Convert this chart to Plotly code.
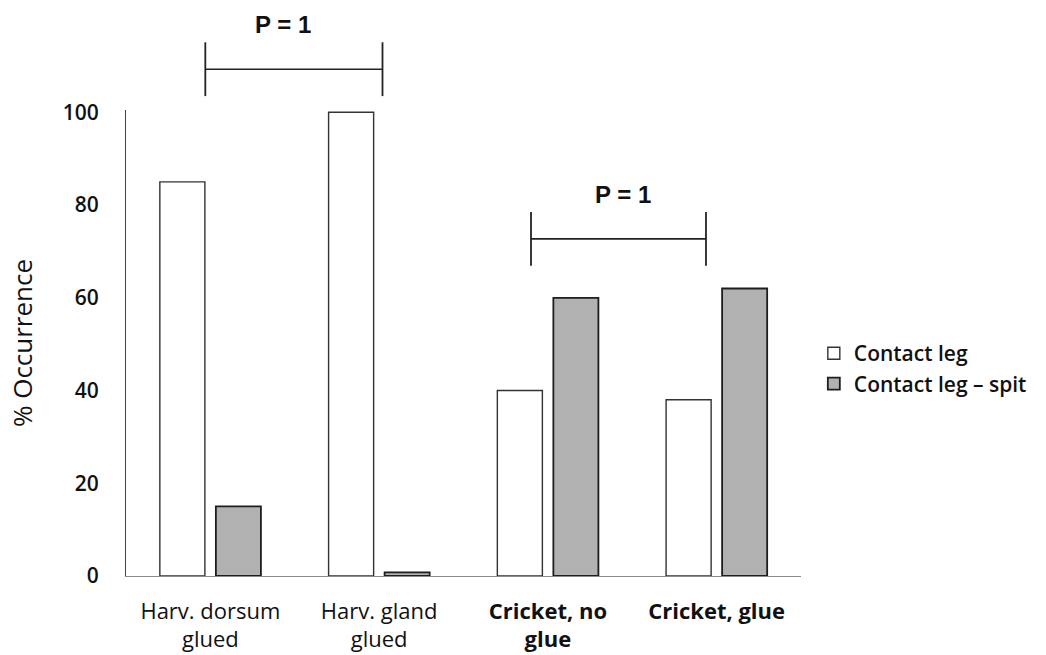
import plotly.graph_objects as go

categories = ["Harv. dorsum<br>glued", "Harv. gland<br>glued", "Cricket, no<br>glue", "Cricket, glue"]
contact_leg = [85, 100, 40, 38]
contact_leg_spit = [15, 0.8, 60, 62]
y_ticks = [0, 20, 40, 60, 80, 100]

# significance brackets: left end, right end, bracket height (% units), label, label x, label height
brackets = [
    (-0.03, 1.02, 109.3, "P = 1", 0.43, 119.0),
    (1.90, 2.937, 72.7, "P = 1", 2.448, 82.3),
]

Y_TOP = 100.5
FONT = "'Open Sans', Lato, sans-serif"
bold_cats = {2, 3}

tick_text = ["<b>" + c + "</b>" if i in bold_cats else c for i, c in enumerate(categories)]

fig = go.Figure()
fig.add_trace(go.Bar(
    x=list(range(len(categories))), y=contact_leg, name="Contact leg",
    marker=dict(color="white", line=dict(color="#333333", width=1.4)),
))
fig.add_trace(go.Bar(
    x=list(range(len(categories))), y=contact_leg_spit, name="Contact leg \u2013 spit",
    marker=dict(color="#b1b1b1", line=dict(color="#1e1e1e", width=1.8)),
))

shapes = []
annotations = []
for x0, x1, yv, label, tx, ty in brackets:
    yp = yv / Y_TOP
    half = 5.8 / Y_TOP
    shapes.append(dict(type="line", xref="x", yref="paper", x0=x0, x1=x1, y0=yp, y1=yp,
                       line=dict(color="#222222", width=1.6)))
    for xx in (x0, x1):
        shapes.append(dict(type="line", xref="x", yref="paper", x0=xx, x1=xx,
                           y0=yp - half, y1=yp + half, line=dict(color="#222222", width=1.8)))
    annotations.append(dict(x=tx, y=ty / Y_TOP, xref="x", yref="paper",
                            xanchor="center", yanchor="middle",
                            text="<b>" + label + "</b>", showarrow=False,
                            font=dict(family="Liberation Sans, Arial", size=24, color="#111111")))

fig.update_layout(
    width=1046, height=655,
    margin=dict(l=126, r=245, t=110, b=79),
    paper_bgcolor="white", plot_bgcolor="white",
    barmode="group", bargap=0.336, bargroupgap=0.196,
    shapes=shapes, annotations=annotations,
    font=dict(family=FONT, color="#111111"),
    legend=dict(x=1.019, y=0.445, xanchor="left", yanchor="middle",
                font=dict(family=FONT, size=21, color="#111111", weight=600),
                tracegroupgap=0, itemwidth=30, bgcolor="rgba(0,0,0,0)"),
    showlegend=True,
)
fig.update_xaxes(
    tickmode="array", tickvals=list(range(len(categories))), ticktext=tick_text,
    range=[-0.5, len(categories) - 0.5], automargin=False,
    showline=True, linecolor="#8a8a8a", linewidth=1.2,
    showgrid=False, zeroline=False, ticks="",
    tickfont=dict(family=FONT, size=22, color="#111111"),
    ticklabelstandoff=15,
)
fig.update_yaxes(
    range=[0, Y_TOP], tickvals=y_ticks, automargin=False,
    showline=True, linecolor="#444444", linewidth=1.2,
    showgrid=False, zeroline=False, ticks="",
    tickfont=dict(family=FONT, size=21, color="#111111", weight=600),
    ticklabelstandoff=22,
    title=dict(text="% Occurrence", font=dict(family=FONT, size=26, color="#111111"), standoff=22),
)

fig.write_html("out.html")
